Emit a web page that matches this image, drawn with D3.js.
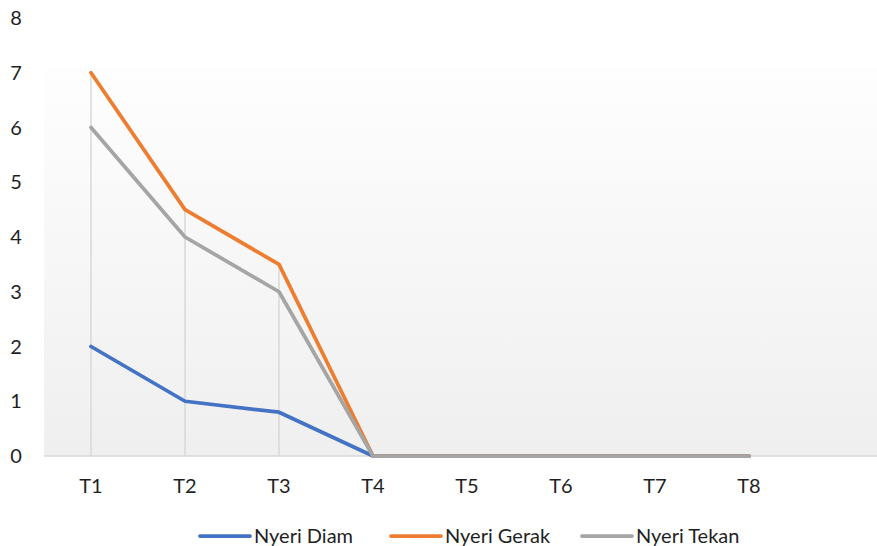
<!DOCTYPE html>
<html>
<head>
<meta charset="utf-8">
<script src="https://cdn.jsdelivr.net/npm/d3@7"></script>
<style>
  body { margin: 0; background: #fff; }
  text { font-family: Lato, "Open Sans", sans-serif; fill: #1f1f1f; }
</style>
</head>
<body>
<svg id="chart" width="877" height="546"></svg>
<script>
// Data
const categories = ["T1", "T2", "T3", "T4", "T5", "T6", "T7", "T8"];
const nyeriDiam = [2, 1, 0.8, 0, 0, 0, 0, 0];
const nyeriGerak = [7, 4.5, 3.5, 0, 0, 0, 0, 0];
const nyeriTekan = [6, 4, 3, 0, 0, 0, 0, 0];
const yTicks = [0, 1, 2, 3, 4, 5, 6, 7, 8];

const seriesList = [
  { name: "Nyeri Diam", values: nyeriDiam, color: "#4472C4" },
  { name: "Nyeri Gerak", values: nyeriGerak, color: "#ED7D31" },
  { name: "Nyeri Tekan", values: nyeriTekan, color: "#A5A5A5" }
];

const width = 877, height = 546;
const svg = d3.select("#chart");

// x has one extra empty slot on the right, like the original
const x = d3.scaleBand().domain([...categories, ""]).range([44, 890]);
const y = d3.scaleLinear().domain([0, 8]).range([456, 18]);
const cx = c => x(c) + x.bandwidth() / 2;

// plot background gradient
const defs = svg.append("defs");
const grad = defs.append("linearGradient")
  .attr("id", "plot-bg")
  .attr("x1", "0%").attr("x2", "0%")
  .attr("y1", "0%").attr("y2", "100%");
grad.append("stop").attr("offset", "0%").attr("stop-color", "#fefefe");
grad.append("stop").attr("offset", "100%").attr("stop-color", "#efefef");

svg.append("rect")
  .attr("x", 44).attr("y", 68)
  .attr("width", width - 44).attr("height", y(0) - 68)
  .attr("fill", "url(#plot-bg)");

// drop lines from highest point down to axis
svg.append("g").selectAll("line")
  .data(categories)
  .join("line")
  .attr("x1", d => cx(d)).attr("x2", d => cx(d))
  .attr("y1", y(0))
  .attr("y2", (d, i) => y(d3.max(seriesList, s => s.values[i])))
  .attr("stroke", "#d9d9d9")
  .attr("stroke-width", 1.5);

// x axis line
svg.append("line")
  .attr("x1", 44).attr("x2", width)
  .attr("y1", y(0)).attr("y2", y(0))
  .attr("stroke", "#d9d9d9")
  .attr("stroke-width", 1.5);

// y tick labels
svg.append("g").selectAll("text")
  .data(yTicks)
  .join("text")
  .attr("x", 16)
  .attr("y", d => y(d))
  .attr("dy", "0.35em")
  .attr("text-anchor", "middle")
  .style("font-size", "20px")
  .text(d => d);

// x tick labels
svg.append("g").selectAll("text")
  .data(categories)
  .join("text")
  .attr("x", d => cx(d))
  .attr("y", 493)
  .attr("text-anchor", "middle")
  .style("font-size", "20px")
  .text(d => d);

// lines
const line = d3.line()
  .x((d, i) => cx(categories[i]))
  .y(d => y(d));

svg.append("g").selectAll("path")
  .data(seriesList)
  .join("path")
  .attr("d", d => line(d.values))
  .attr("fill", "none")
  .attr("stroke", d => d.color)
  .attr("stroke-width", 3.75)
  .attr("stroke-linejoin", "round")
  .attr("stroke-linecap", "round");

// legend
const legendX = [200, 391, 582];
const legend = svg.append("g").selectAll("g")
  .data(seriesList)
  .join("g")
  .attr("transform", (d, i) => `translate(${legendX[i]},536)`);

legend.append("line")
  .attr("x1", 0).attr("x2", 50)
  .attr("stroke", d => d.color)
  .attr("stroke-width", 3.75)
  .attr("stroke-linecap", "round");

legend.append("text")
  .attr("x", 54)
  .attr("dy", "0.35em")
  .style("font-size", "20px")
  .text(d => d.name);
</script>
</body>
</html>
